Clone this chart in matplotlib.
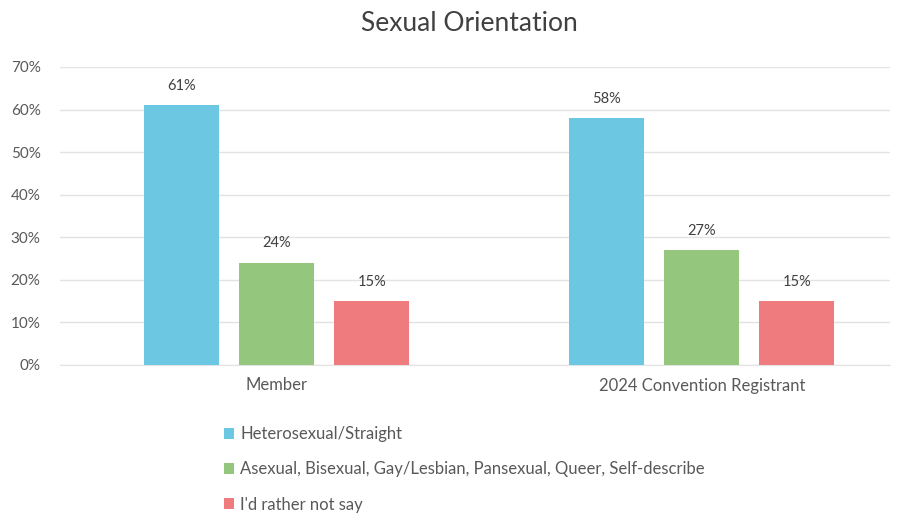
import numpy as np
from matplotlib import pyplot as plt
from matplotlib.ticker import PercentFormatter

plt.rcParams['font.family'] = ['Lato', 'DejaVu Sans']

groups = ['Member', '2024 Convention Registrant']
series = [
    'Heterosexual/Straight',
    'Asexual, Bisexual, Gay/Lesbian, Pansexual, Queer, Self-describe',
    "I'd rather not say",
]
heterosexual = [61, 58]
lgbtq = [24, 27]
rather_not_say = [15, 15]
colors = ['#6cc8e2', '#95c67e', '#ef7b7f']

fig = plt.figure(figsize=(9.02, 5.14), dpi=100)
ax = fig.add_axes([60 / 902, 1 - 365 / 514, 830 / 902, 298 / 514])

x = np.arange(len(groups))
width = 0.176
step = 0.2235
handles = []
for i, (vals, color) in enumerate(zip([heterosexual, lgbtq, rather_not_say], colors)):
    bars = ax.bar(x + (i - 1) * step, vals, width, color=color, label=series[i], zorder=3)
    handles.append(bars)
    for rect, v in zip(bars, vals):
        ax.annotate(f'{v}%', (rect.get_x() + rect.get_width() / 2, v),
                    xytext=(0, 9), textcoords='offset points',
                    ha='center', va='bottom', fontsize=10.5, color='#404040')

ax.set_xlim(-0.51, 1.443)
ax.set_ylim(0, 70)
ax.set_yticks(range(0, 71, 10))
ax.yaxis.set_major_formatter(PercentFormatter(decimals=0))
ax.set_xticks(x)
ax.set_xticklabels(groups, fontsize=12)
ax.tick_params(axis='both', length=0, labelcolor='#595959')
ax.tick_params(axis='y', pad=14, labelsize=11)
ax.tick_params(axis='x', pad=9)
ax.grid(axis='y', color='#e3e3e3', linewidth=1, zorder=0)
for s in ['top', 'right', 'left']:
    ax.spines[s].set_visible(False)
ax.spines['bottom'].set_color('#e3e3e3')

fig.suptitle('Sexual Orientation', x=0.52, y=0.978, fontsize=19, color='#404040')

fig.legend(handles=handles, labels=series, loc='upper left',
           bbox_to_anchor=(0.232, 0.2), frameon=False, fontsize=12,
           labelcolor='#595959', handlelength=0.6, handleheight=0.6,
           handletextpad=0.35, labelspacing=1.15)

fig.savefig('out.png', dpi=100)
